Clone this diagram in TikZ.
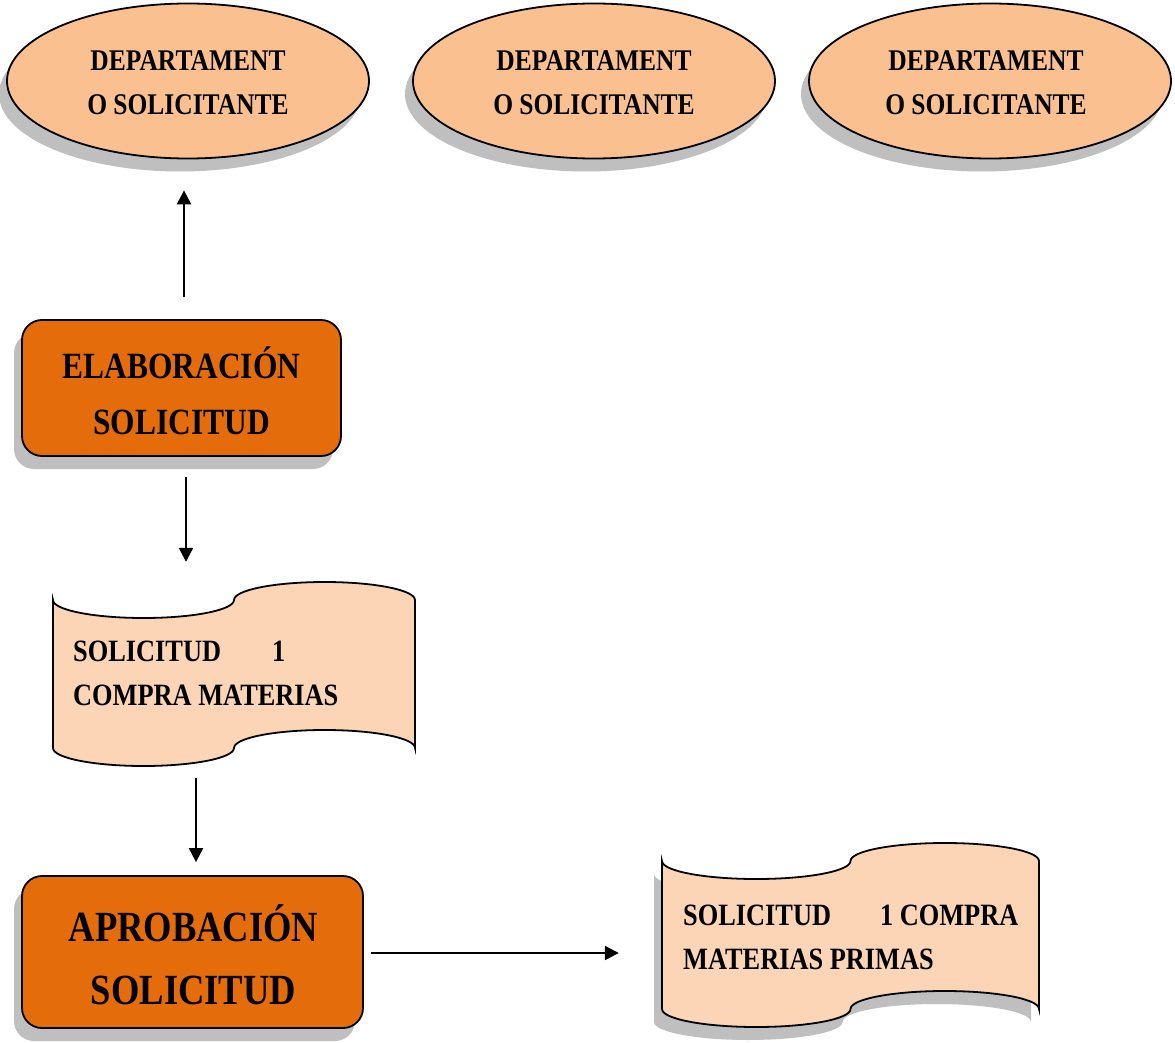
\documentclass[tikz,border=0pt]{standalone}
\usepackage{fontspec}
\setmainfont{Liberation Serif}
\newfontfamily\decofont{Liberation Serif}[FakeStretch=0.85]
\usetikzlibrary{shapes.geometric,shadows,arrows.meta,calc}
\definecolor{ellfill}{HTML}{FAC090}
\definecolor{boxfill}{HTML}{E46C0A}
\definecolor{docfill}{HTML}{FBD5B5}
\definecolor{shadowgray}{HTML}{BFBFBF}
\newcommand\tapeshape[6]{%
 \pgfmathsetmacro\tA{#2}\pgfmathsetmacro\tB{#3}%
 \pgfmathsetmacro\tM{(#2+#3)/2}%
 \pgfmathsetmacro\tQa{(3*#2+#3)/4}%
 \pgfmathsetmacro\tQb{(#2+3*#3)/4}%
 \pgfmathsetmacro\tk{0.5523*(#3-#2)/4}%
 \pgfmathsetmacro\ta{0.5523*#6}%
 \path[#1] (\tA,#4) .. controls (\tA,#4+\ta) and (\tQa-\tk,#4+#6) .. (\tQa,#4+#6)
   .. controls (\tQa+\tk,#4+#6) and (\tM,#4+\ta) .. (\tM,#4)
   .. controls (\tM,#4-\ta) and (\tQb-\tk,#4-#6) .. (\tQb,#4-#6)
   .. controls (\tQb+\tk,#4-#6) and (\tB,#4-\ta) .. (\tB,#4)
   -- (\tB,#5)
   .. controls (\tB,#5-\ta) and (\tQb+\tk,#5-#6) .. (\tQb,#5-#6)
   .. controls (\tQb-\tk,#5-#6) and (\tM,#5-\ta) .. (\tM,#5)
   .. controls (\tM,#5+\ta) and (\tQa+\tk,#5+#6) .. (\tQa,#5+#6)
   .. controls (\tQa-\tk,#5+#6) and (\tA,#5+\ta) .. (\tA,#5) -- cycle;%
}
\tikzset{
  shad/.style={drop shadow={shadow xshift=-8pt,shadow yshift=-13pt,fill=shadowgray,opacity=1}},
  ell/.style={ellipse,draw,line width=1.8pt,fill=ellfill,shad,minimum width=362pt,minimum height=155pt,inner sep=0pt},
  procbox/.style={rectangle,rounded corners=20pt,draw,line width=1.8pt,fill=boxfill,shad,inner sep=0pt},
  lbl/.style={align=center,inner sep=0pt},
  elltext/.style={lbl,font=\decofont\bfseries\fontsize{30}{44}\selectfont},
  doctext/.style={anchor=west,align=left,inner sep=0pt,font=\decofont\bfseries\fontsize{31}{44}\selectfont},
  docarea/.style={rectangle,inner sep=0pt},
  arr/.style={line width=2.2pt,-{Triangle[length=14pt,width=14pt]}},
}
\begin{document}
\begin{tikzpicture}[x=1pt,y=-1pt]
\useasboundingbox (0,0) rectangle (1175,1043);
% ellipses
\node[ell] (e1) at (188,81) {};
\node[elltext] (e1t) at (188,83) {DEPARTAMENT\\O SOLICITANTE};
\node[ell] (e2) at (594,81) {};
\node[elltext] (e2t) at (594,83) {DEPARTAMENT\\O SOLICITANTE};
\node[ell] (e3) at (990,81) {};
\node[elltext] (e3t) at (986,83) {DEPARTAMENT\\O SOLICITANTE};
% process boxes
\node[procbox,minimum width=319pt,minimum height=136pt] (r1) at (181.5,388) {};
\node[lbl,font=\decofont\bfseries\fontsize{37}{56}\selectfont] (r1t) at (181.5,391) {ELABORACIÓN\\SOLICITUD};
\node[procbox,minimum width=341pt,minimum height=152pt] (r2) at (192.5,952) {};
\node[lbl,font=\decofont\bfseries\fontsize{43}{63}\selectfont] (r2t) at (193.5,955) {APROBACIÓN\\SOLICITUD};
% document 1 (no shadow)
\tapeshape{draw,line width=1.8pt,fill=docfill}{53}{415}{600}{748}{18}
\node[docarea,minimum width=362pt,minimum height=184pt] (d1) at (234,674) {};
\node[doctext] (d1t) at (73,673) {SOLICITUD\hspace{51pt}1\\COMPRA MATERIAS};
% document 2 (with shadow)
\begin{scope}[shift={(-8,13)}]
\tapeshape{fill=shadowgray}{662}{1039}{861}{1009}{18}
\end{scope}
\tapeshape{draw,line width=1.8pt,fill=docfill}{662}{1039}{861}{1009}{18}
\node[docarea,minimum width=377pt,minimum height=184pt] (d2) at (850.5,935) {};
\node[doctext] (d2t) at (683,937) {SOLICITUD\hspace{49pt}1 COMPRA\\MATERIAS PRIMAS};
% connectors
\draw[arr,shorten <=22pt,shorten >=31pt] ([xshift=2.5pt]r1.north) -- ([xshift=2.5pt]r1.north |- e1.south);
\draw[arr,shorten <=20pt,shorten >=20pt] ([xshift=4.5pt]r1.south) -- ([xshift=4.5pt]r1.south |- d1.north);
\draw[arr,shorten <=12pt,shorten >=13pt] ([xshift=-38pt]d1.south) -- ([xshift=-38pt]d1.south |- r2.north);
\draw[arr,shorten <=7pt,shorten >=43pt] ([yshift=-1pt]r2.east) -- ([yshift=-1pt]r2.east -| d2.west);
\end{tikzpicture}
\end{document}
